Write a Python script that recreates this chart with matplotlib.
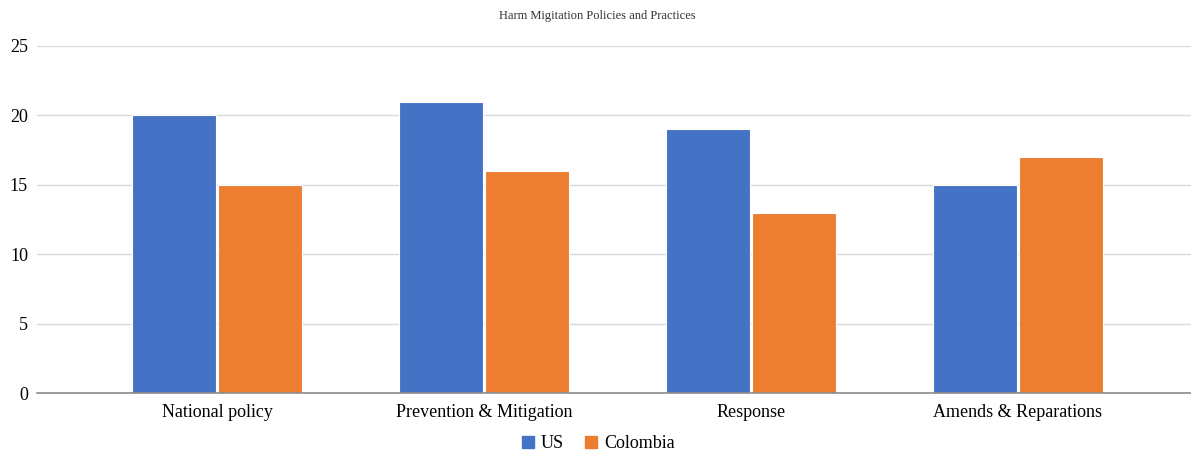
import matplotlib
matplotlib.use("Agg")
import matplotlib.pyplot as plt
import numpy as np
from matplotlib.lines import Line2D

categories = ["National policy", "Prevention & Mitigation", "Response", "Amends & Reparations"]
us_values = [20, 21, 19, 15]
colombia_values = [15, 16, 13, 17]
series_names = ["US", "Colombia"]
y_ticks = [0, 5, 10, 15, 20, 25]

blue = "#4472C4"
orange = "#ED7D31"

plt.rcParams["font.family"] = ["Liberation Serif", "DejaVu Serif"]

fig = plt.figure(figsize=(11.91, 4.57), dpi=100)
ax = fig.add_axes([37 / 1191, (457 - 393) / 457, 1 - 37 / 1191, (393 - 46) / 457])

x = np.arange(len(categories))
w = 0.315
ax.bar(x - w / 2 - 0.003, us_values, width=w, color=blue, edgecolor="white", linewidth=0.8, zorder=3)
ax.bar(x + w / 2 + 0.003, colombia_values, width=w, color=orange, edgecolor="white", linewidth=0.8, zorder=3)

ax.set_xlim(-0.674, 3.648)
ax.set_ylim(0, 25)
ax.set_yticks(y_ticks)
ax.set_yticklabels([str(t) for t in y_ticks], fontsize=13)
ax.set_xticks(x)
ax.set_xticklabels(categories, fontsize=13)
ax.tick_params(axis="x", length=0, pad=8)
ax.tick_params(axis="y", length=0, pad=6.5)

ax.grid(axis="y", color="#d9d9d9", linewidth=1, zorder=0)
ax.set_axisbelow(True)
for s in ["top", "right", "left"]:
    ax.spines[s].set_visible(False)
ax.spines["bottom"].set_color("#8c8c8c")
ax.spines["bottom"].set_linewidth(1.2)
ax.spines["bottom"].set_zorder(4)

fig.text(597 / 1191, 1 - 16 / 457, "Harm Migitation Policies and Practices",
         ha="center", va="center", fontsize=9, color="#333333")

handles = [Line2D([], [], marker="s", linestyle="none", markersize=9, color=blue),
           Line2D([], [], marker="s", linestyle="none", markersize=9, color=orange)]
fig.legend(handles, series_names, loc="center", bbox_to_anchor=(597 / 1191, 1 - 444 / 457),
           ncol=2, frameon=False, fontsize=13, handletextpad=0.2, columnspacing=1.0,
           handlelength=1.0)

fig.savefig("out.png", dpi=100)
